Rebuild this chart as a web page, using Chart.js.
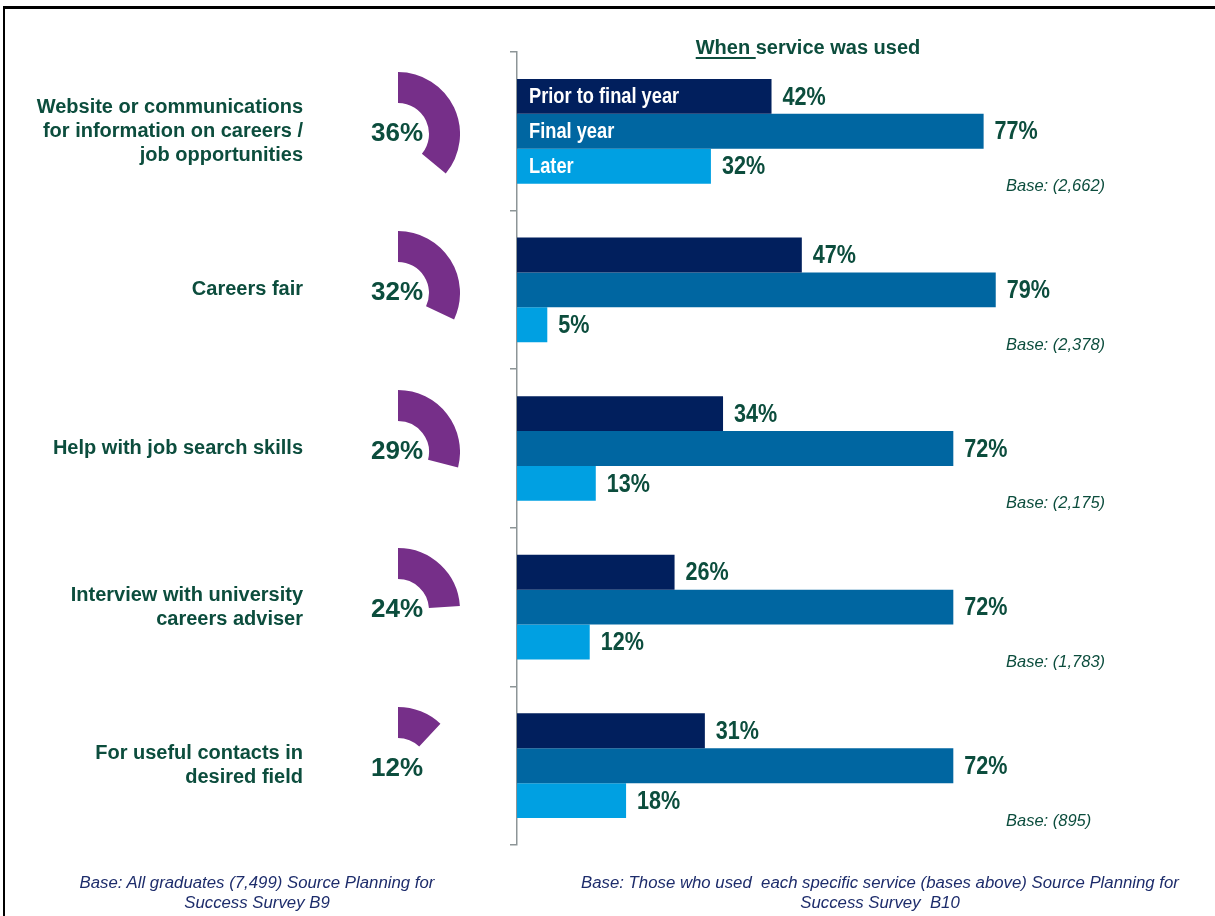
<!DOCTYPE html>
<html>
<head>
<meta charset="utf-8">
<title>Careers service use</title>
<script src="https://cdn.jsdelivr.net/npm/chart.js@4.4.1/dist/chart.umd.min.js"></script>
<style>
  body { margin: 0; background: #fff; }
  #wrap { position: relative; width: 1215px; height: 916px; overflow: hidden; font-family: "Liberation Sans", Arial, sans-serif; }
  #frame { position: absolute; left: 3px; top: 6px; width: 1300px; height: 1000px; border-top: 3px solid #000; border-left: 2px solid #000; }
  #bars { position: absolute; left: 0; top: 0; }
  .ring { position: absolute; }
  #title { position: absolute; left: 608px; width: 400px; top: 36px; text-align: center; color: #0c4d3d;
           font: bold 20px "Liberation Sans", Arial, sans-serif; }
  #title u { text-decoration-thickness: 2px; text-underline-offset: 3px; }
  .note { position: absolute; top: 873px; text-align: center; color: #1d2c6b; line-height: 19px;
          font: italic 16.8px "Liberation Sans", Arial, sans-serif; }
</style>
</head>
<body>
<div id="wrap">
  <div id="frame"></div>
  <canvas id="bars" width="1215" height="916"></canvas>
  <div id="title"><u>When </u>service was used</div>
  <div class="note" style="left:57px;width:400px;">Base: All graduates (7,499) Source Planning for<br>Success Survey B9</div>
  <div class="note" style="left:540px;width:680px;">Base: Those who used&nbsp; each specific service (bases above) Source Planning for<br>Success Survey&nbsp; B10</div>
</div>

<script>
// services and overall share of graduates who used each one
const services = [
    ['Website or communications', 'for information on careers /', 'job opportunities'],
    ['Careers fair'],
    ['Help with job search skills'],
    ['Interview with university', 'careers adviser'],
    ['For useful contacts in', 'desired field']
];
const usedShare = [36, 32, 29, 24, 12];

// when the service was used (% of users of that service)
const timingNames = ['Prior to final year', 'Final year', 'Later'];
const priorYear = [42, 47, 34, 26, 31];
const finalYear = [77, 79, 72, 72, 72];
const laterOn = [32, 5, 13, 12, 18];
const bases = ['2,662', '2,378', '2,175', '1,783', '895'];

const GREEN = '#0c4d3d';
const PURPLE = '#762f89';
const SANS = '"Liberation Sans", Arial, sans-serif';

// narrow-looking text: squeeze the glyphs horizontally
function narrowText(ctx, text, x, y, squeeze) {
    ctx.save();
    ctx.translate(x, y);
    ctx.scale(squeeze, 1);
    ctx.fillText(text, 0, 0);
    ctx.restore();
}

// category names left of the rings, percentages after bars,
// series names inside the top group, base under each group
const barText = {
    id: 'barText',
    afterDatasetsDraw(chart) {
        const ctx = chart.ctx;
        const area = chart.chartArea;
        const y = chart.scales.y;
        ctx.save();
        ctx.textBaseline = 'middle';

        ctx.fillStyle = GREEN;
        ctx.textAlign = 'right';
        ctx.font = 'bold 20px ' + SANS;
        chart.data.labels.forEach((lines, i) => {
            const mid = y.getPixelForValue(i);
            const top = mid - (lines.length - 1) * 12;
            lines.forEach((line, k) => ctx.fillText(line, area.left - 214, top + k * 24));
        });

        ctx.textAlign = 'left';
        chart.data.datasets.forEach((ds, di) => {
            const meta = chart.getDatasetMeta(di);
            ctx.fillStyle = GREEN;
            ctx.font = 'bold 26px ' + SANS;
            meta.data.forEach((bar, i) => {
                narrowText(ctx, ds.data[i] + '%', bar.x + 11, bar.y + 1, 0.83);
            });
            ctx.fillStyle = '#fff';
            ctx.font = 'bold 22px ' + SANS;
            narrowText(ctx, ds.label, area.left + 12, meta.data[0].y + 1, 0.83);
        });

        const last = chart.getDatasetMeta(chart.data.datasets.length - 1);
        ctx.fillStyle = GREEN;
        ctx.font = 'italic 16.5px ' + SANS;
        last.data.forEach((bar, i) => {
            ctx.fillText('Base: (' + bases[i] + ')', area.right - 117, bar.y + bar.height / 2 + 3);
        });
        ctx.restore();
    }
};

const barChart = new Chart(document.getElementById('bars'), {
    type: 'bar',
    data: {
        labels: services,
        datasets: [
            { label: timingNames[0], data: priorYear, backgroundColor: '#011f5d' },
            { label: timingNames[1], data: finalYear, backgroundColor: '#0066a1' },
            { label: timingNames[2], data: laterOn, backgroundColor: '#00a0e2' }
        ]
    },
    options: {
        indexAxis: 'y',
        responsive: false,
        animation: false,
        events: [],
        categoryPercentage: 0.66,
        barPercentage: 1.0,
        layout: { padding: { left: 507, top: 52, bottom: 71, right: 92 } },
        plugins: { legend: { display: false }, tooltip: { enabled: false } },
        scales: {
            x: { display: false, min: 0, max: 100 },
            y: {
                afterFit(scale) { scale.width = 10; },
                grid: { offset: true, drawOnChartArea: false, drawTicks: true, tickLength: 7, color: '#8d9597', lineWidth: 1.5 },
                border: { display: true, color: '#8d9597', width: 1.5 },
                ticks: { display: false }
            }
        }
    },
    plugins: [barText]
});

// share of all graduates as a ring segment, value written in the middle
const ringLabel = {
    id: 'ringLabel',
    afterDraw(chart) {
        const ctx = chart.ctx;
        const a = chart.chartArea;
        ctx.save();
        ctx.fillStyle = GREEN;
        ctx.font = 'bold 26px ' + SANS;
        ctx.textAlign = 'center';
        ctx.textBaseline = 'middle';
        ctx.fillText(chart.data.datasets[0].data[0] + '%', (a.left + a.right) / 2 - 1, (a.top + a.bottom) / 2);
        ctx.restore();
    }
};

const yScale = barChart.scales.y;
const wrap = document.getElementById('wrap');
usedShare.forEach((v, i) => {
    const c = document.createElement('canvas');
    c.className = 'ring';
    c.width = 124;
    c.height = 124;
    c.style.left = (398 - 62) + 'px';
    c.style.top = (yScale.getPixelForValue(i) + 3 - 62) + 'px';
    wrap.appendChild(c);
    new Chart(c, {
        type: 'doughnut',
        data: {
            labels: ['Used', ''],
            datasets: [{
                data: [v, 100 - v],
                backgroundColor: [PURPLE, 'rgba(0,0,0,0)'],
                borderWidth: 0,
                hoverOffset: 0
            }]
        },
        options: {
            responsive: false,
            animation: false,
            events: [],
            cutout: '50%',
            layout: { padding: 0 },
            plugins: { legend: { display: false }, tooltip: { enabled: false } }
        },
        plugins: [ringLabel]
    });
});
</script>
</body>
</html>
